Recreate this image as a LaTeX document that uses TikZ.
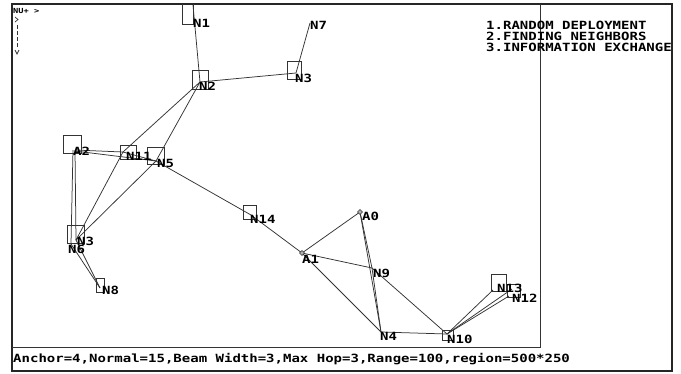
\documentclass[tikz,border=0pt]{standalone}
\usepackage{fontspec}
\newfontfamily\bgi[FakeStretch=1.24]{DejaVu Sans Mono}
\begin{document}
\begin{tikzpicture}[x=1pt,y=-1pt,
  frame/.style={draw=black!85, line width=1.4pt},
  divider/.style={draw=black!80, line width=1pt},
  link/.style={draw=black!80, line width=0.75pt},
  box/.style={draw=black!80, line width=0.75pt},
  lbl/.style={anchor=base west, inner sep=0pt, font=\bgi\bfseries\fontsize{11.3}{11.3}\selectfont},
  anchormark/.style={draw=black!80, fill=black!30, line width=0.5pt, minimum size=3.5pt, inner sep=0pt, shape=rectangle, rotate=45}]
\useasboundingbox (0,0) rectangle (681,373);
\fill[white] (0,0) rectangle (681,373);

% window frame, plot area and status line
\draw[frame] (12,4) rectangle (672,371);
\draw[divider] (540,4) -- (540,347) -- (12,347);

% node positions
\coordinate (N1) at (193,5);
\coordinate (N2) at (200,82);
\coordinate (N3a) at (296,73);
\coordinate (N7) at (310,23);
\coordinate (A2) at (75,150);
\coordinate (N11) at (123,152);
\coordinate (N5) at (156,161);
\coordinate (N3b) at (76,240);
\coordinate (N6) at (71,244);
\coordinate (N8) at (100,288);
\coordinate (N14) at (251,215);
\coordinate (A1) at (302,253);
\coordinate (A0) at (360,212);
\coordinate (N9) at (372,268);
\coordinate (N4) at (381,332);
\coordinate (N10) at (447,334);
\coordinate (N13) at (493,290);
\coordinate (N12) at (509,296);
\coordinate (N12b) at (512,289);

\begin{scope}
\clip (12,4) rectangle (540,347);
% range boxes
\draw[box] (182,0) rectangle (193,24);
\draw[box] (192,70) rectangle (208,89);
\draw[box] (287,61) rectangle (301,79);
\draw[box] (63,135) rectangle (81,153);
\draw[box] (120,145) rectangle (136,159);
\draw[box] (147,147) rectangle (164,164);
\draw[box] (67,225) rectangle (84,243);
\draw[box] (96,278) rectangle (104,292);
\draw[box] (243,205) rectangle (256,219);
\draw[box] (442,330) rectangle (453,340);
\draw[box] (491,274) rectangle (506,291);
\draw[box] (507,284) rectangle (520,297);

% neighbour links
\draw[link] (N1) -- (N2);
\draw[link] (N2) -- (N3a);
\draw[link] (N3a) -- (N7);
\draw[link] (N2) -- (N11);
\draw[link] (N2) -- (N5);
\draw[link] (A2) -- (N11);
\draw[link] ([yshift=-1]A2) -- (N5);
\draw[link] (N11) -- (N5);
\draw[link] (A2) -- (N3b);
\draw[link] ([xshift=-2]A2) -- (N6);
\draw[link] (N3b) -- (N11);
\draw[link] (N3b) -- (N5);
\draw[link] (N6) -- (N8);
\draw[link] (N3b) -- (N8);
\draw[link] (N5) -- (N14);
\draw[link] (N14) -- (A1);
\draw[link] (A1) -- (A0);
\draw[link] (A1) -- (N9);
\draw[link] (A1) -- (N4);
\draw[link] (A0) -- (N9) -- (N4);
\draw[link] (A0) -- (N4);
\draw[link] (N9) -- (N10);
\draw[link] (N4) -- (N10);
\draw[link] (N10) -- (N13);
\draw[link] (N10) -- (N12);
\draw[link] (N10) -- (N12b);
\end{scope}

% anchor markers
\node[anchormark] (mA0) at (A0) {};
\node[anchormark] (mA1) at (A1) {};

% node labels
\node[lbl] (lN1) at (193,27) {N1};
\node[lbl] (lN2) at (199,90) {N2};
\node[lbl] (lN3a) at (295,82) {N3};
\node[lbl] (lN7) at (310,29) {N7};
\node[lbl] (lA2) at (73,155) {A2};
\node[lbl] (lN11) at (126,160) {N11};
\node[lbl] (lN5) at (157,167) {N5};
\node[lbl] (lN3b) at (77,245) {N3};
\node[lbl] (lN6) at (68,253) {N6};
\node[lbl] (lN8) at (102,294) {N8};
\node[lbl] (lN14) at (250,223) {N14};
\node[lbl] (lA1) at (302,263) {A1};
\node[lbl] (lA0) at (362,220) {A0};
\node[lbl] (lN9) at (373,277) {N9};
\node[lbl] (lN4) at (380,340) {N4};
\node[lbl] (lN10) at (447,343) {N10};
\node[lbl] (lN13) at (497,292) {N13};
\node[lbl] (lN12) at (512,302) {N12};

% axis indicator in the corner
\node[anchor=base west, inner sep=0pt, font=\bgi\bfseries\fontsize{7}{7}\selectfont] (axis) at (13,13) {NU+ >};
\draw[black!80, line width=0.7pt] (15,17) -- (18,19.5) -- (15,22);
\draw[black!80, line width=0.7pt, dash pattern=on 4pt off 2pt] (17,25) -- (17,47);
\draw[black!80, line width=0.7pt] (15,50) -- (17,54) -- (19,50);

% stage list
\node[lbl] (s1) at (486,29) {1.RANDOM DEPLOYMENT};
\node[lbl] (s2) at (486,40) {2.FINDING NEIGHBORS};
\node[lbl] (s3) at (486,51) {3.INFORMATION EXCHANGE};

% status line
\node[lbl] (status) at (13,362) {Anchor=4,Normal=15,Beam Width=3,Max Hop=3,Range=100,region=500*250};
\end{tikzpicture}
\end{document}
